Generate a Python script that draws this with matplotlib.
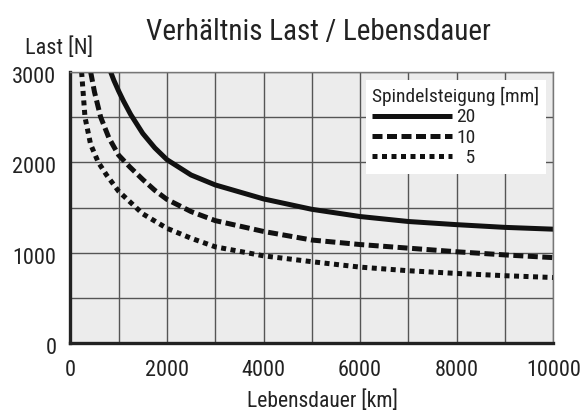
import matplotlib
matplotlib.use('Agg')
import matplotlib.pyplot as plt
from matplotlib.lines import Line2D
from matplotlib.transforms import ScaledTranslation

plt.rcParams['font.family'] = ['Roboto Condensed', 'DejaVu Sans']

# Lebensdauer [km] / Last [N] for each Spindelsteigung
x_20 = [836, 900, 1000, 1100, 1250, 1500, 1750, 2000, 2500, 3000, 4000, 5000, 6000, 7000, 8000, 9000, 10000]
y_20 = [3000, 2910, 2790, 2680, 2530, 2320, 2160, 2030, 1860, 1750, 1595, 1480, 1400, 1345, 1310, 1280, 1260]

x_10 = [422, 500, 629, 800, 1000, 1230, 1500, 1750, 2000, 2500, 3000, 4000, 5000, 6000, 7000, 8000, 9000, 10000]
y_10 = [3000, 2780, 2500, 2270, 2080, 1950, 1810, 1690, 1590, 1455, 1355, 1235, 1140, 1090, 1050, 1010, 975, 945]

x_5 = [234, 304, 420, 580, 750, 1000, 1500, 2000, 2500, 3000, 4000, 5000, 6000, 7000, 8000, 9000, 10000]
y_5 = [3000, 2500, 2200, 2000, 1860, 1680, 1430, 1270, 1160, 1065, 965, 900, 840, 800, 770, 745, 725]

x_ticks = [0, 1000, 2000, 3000, 4000, 5000, 6000, 7000, 8000, 9000, 10000]
x_labels = ['0', '', '2000', '', '4000', '', '6000', '', '8000', '', '10000']
y_ticks = [0, 500, 1000, 1500, 2000, 2500, 3000]
y_labels = ['0', '', '1000', '', '2000', '', '3000']
series_labels = ['20', '10', '\u20075']

fig = plt.figure(figsize=(5.86, 4.16), dpi=100)
ax = fig.add_axes([70.3 / 586, 1 - 343 / 416, 483 / 586, 271 / 416])
ax.set_facecolor('#ececec')

lw = 3.6
dash = (0, (2.0, 0.9))
dot = (0, (1.0, 0.9))
ax.plot(x_20, y_20, color='#111111', lw=lw, solid_capstyle='butt')
ax.plot(x_10, y_10, color='#111111', lw=lw, linestyle=dash, dash_capstyle='butt')
ax.plot(x_5, y_5, color='#111111', lw=lw, linestyle=dot, dash_capstyle='butt')

ax.set_xlim(0, 10000)
ax.set_ylim(0, 3000)
ax.set_xticks(x_ticks)
ax.set_xticklabels(x_labels)
ax.set_yticks(y_ticks)
ax.set_yticklabels(y_labels)
ax.tick_params(length=0, labelsize=16, colors='#222222')
ax.tick_params(axis='x', pad=12)
ax.tick_params(axis='y', pad=10)
# y labels sit a little below their grid lines
shift = ScaledTranslation(0, -3 / 100, fig.dpi_scale_trans)
for t in ax.get_yticklabels():
    t.set_transform(t.get_transform() + shift)
ax.grid(True, color='#555555', lw=1.0)
ax.set_axisbelow(True)

for s in ['left', 'bottom']:
    ax.spines[s].set_linewidth(2.4)
    ax.spines[s].set_color('#222222')
for s in ['top', 'right']:
    ax.spines[s].set_linewidth(1.0)
    ax.spines[s].set_color('#777777')

handles = [
    Line2D([], [], color='#111111', lw=lw, solid_capstyle='butt'),
    Line2D([], [], color='#111111', lw=lw, linestyle=dash, dash_capstyle='butt'),
    Line2D([], [], color='#111111', lw=lw, linestyle=dot, dash_capstyle='butt'),
]
leg = ax.legend(handles, series_labels, title='Spindelsteigung [mm]', loc='upper right',
                bbox_to_anchor=(0.9855, 0.970), borderaxespad=0, fontsize=14, title_fontsize=14,
                frameon=True, fancybox=False, edgecolor='white', facecolor='white',
                framealpha=1, handlelength=4.1, handletextpad=0.2, labelspacing=0.12,
                borderpad=0.35, alignment='left')
leg.get_frame().set_linewidth(0)
for t in leg.get_texts() + [leg.get_title()]:
    t.set_color('#222222')

fig.text(318 / 586, 1 - 32 / 416, 'Verhältnis Last / Lebensdauer', fontsize=21,
         ha='center', va='center', color='#222222')
fig.text(59 / 586, 1 - 48 / 416, 'Last [N]', fontsize=16, ha='center', va='center', color='#222222')
fig.text(322 / 586, 1 - 401 / 416, 'Lebensdauer [km]', fontsize=15.5, ha='center', va='center', color='#222222')

fig.savefig('out.png', dpi=100)
